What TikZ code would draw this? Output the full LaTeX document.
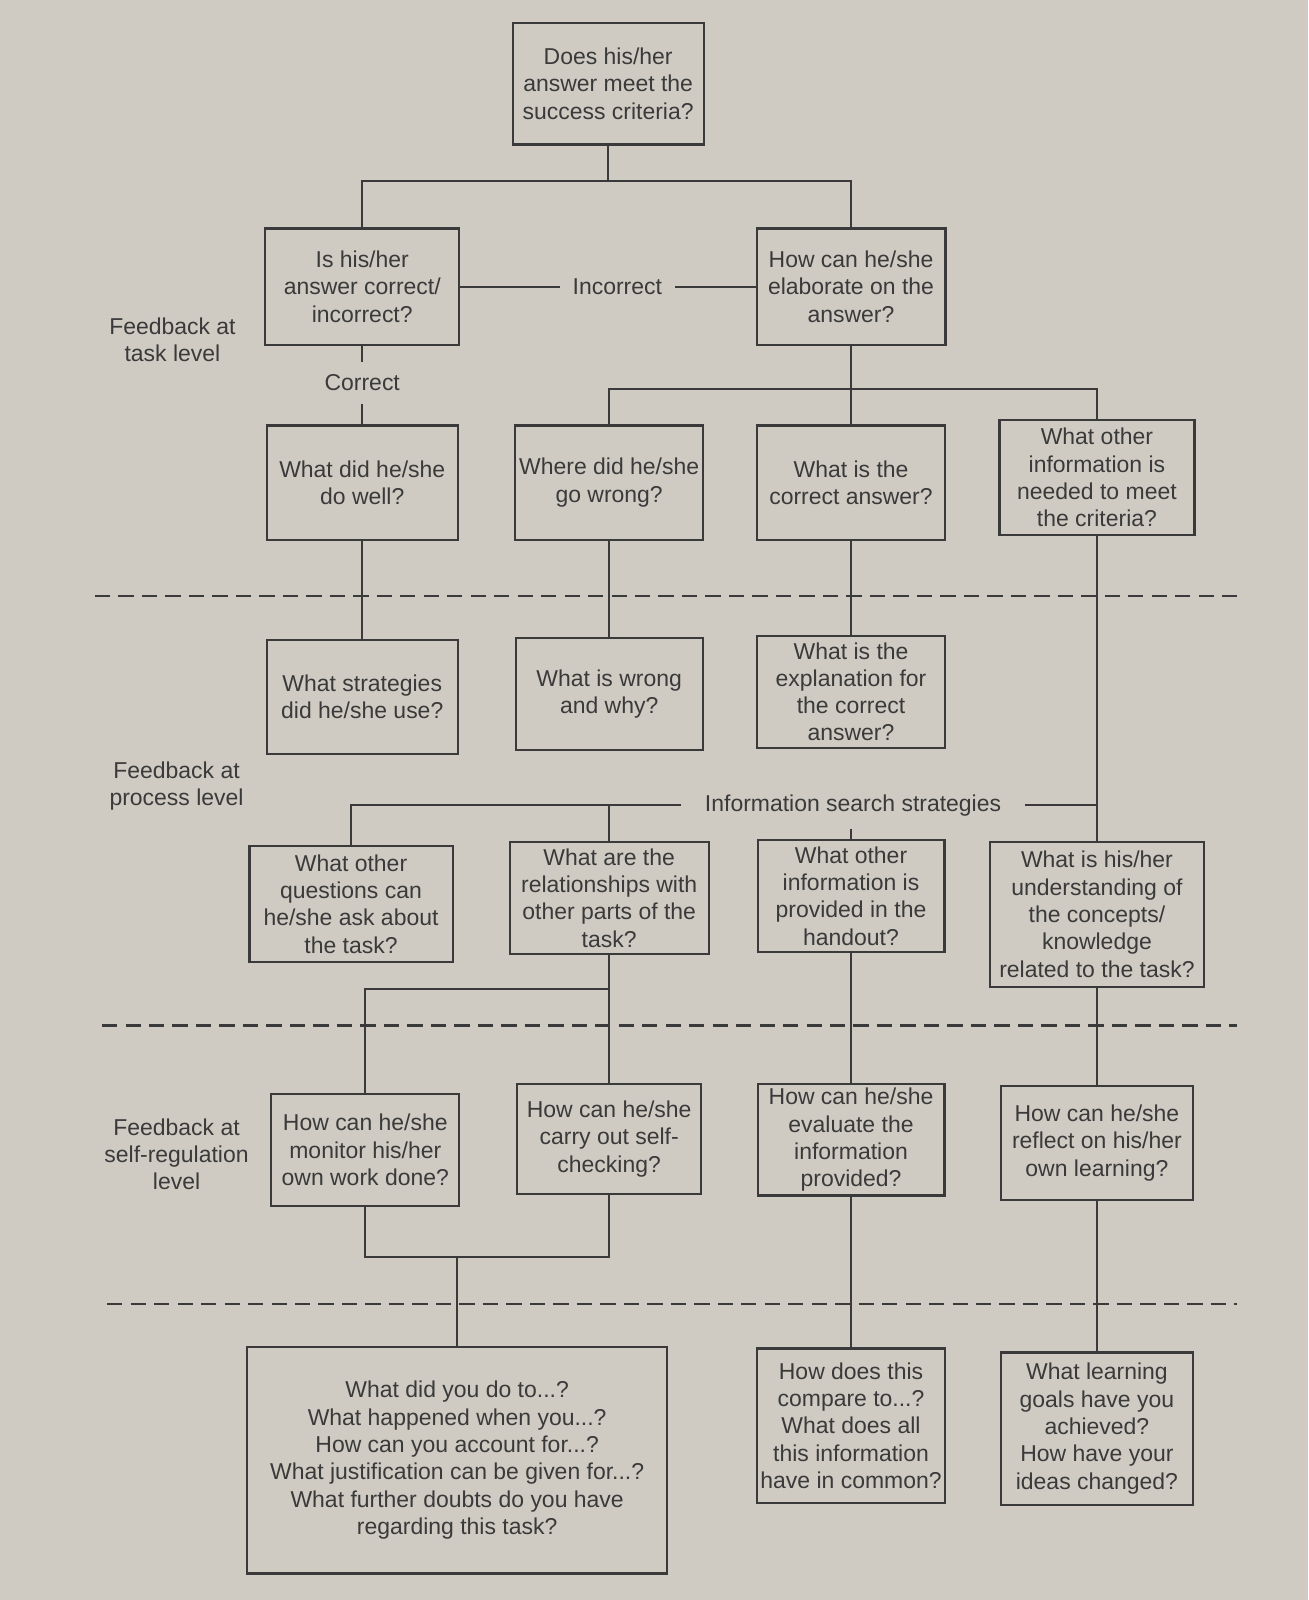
\documentclass[tikz,border=0pt]{standalone}
\usepackage{fontspec}
\setmainfont{Liberation Sans}
\definecolor{paper}{HTML}{CFCBC3}
\definecolor{ink}{HTML}{3A3A3A}
\begin{document}
\begin{tikzpicture}[x=0.01cm, y=-0.01cm, line width=.6pt, color=ink,
 font=\fontsize{6.4}{7.6}\selectfont,
 qbox/.style 2 args={draw, align=center, inner sep=1pt, minimum width=#1cm, minimum height=#2cm},
 lvl/.style={align=center},
 sep/.style={dash pattern=on .15cm off .08cm}]
\fill[paper] (0,0) rectangle (1282,1568);
\useasboundingbox (0,0) rectangle (1282,1568);
\node[qbox={1.87}{1.19}] (top) at (596,82) {Does his/her\\answer meet the\\success criteria?};
\node[qbox={1.90}{1.14}] (A) at (355,281) {Is his/her\\answer correct/\\incorrect?};
\node[qbox={1.85}{1.14}] (B) at (834,281) {How can he/she\\elaborate on the\\answer?};
\node (incor) at (605,281) {Incorrect};
\node (cor) at (355,375) {Correct};
\node[qbox={1.87}{1.12}] (C) at (355,473) {What did he/she\\do well?};
\node[qbox={1.84}{1.12}] (D) at (597,473) {Where did he/she\\go wrong?};
\node[qbox={1.84}{1.12}] (E) at (834,473) {What is the\\correct answer?};
\node[qbox={1.91}{1.13}] (F) at (1075,468) {What other\\information is\\needed to meet\\the criteria?};
\node[qbox={1.87}{1.12}] (G) at (355,683) {What strategies\\did he/she use?};
\node[qbox={1.83}{1.10}] (H) at (597,680) {What is wrong\\and why?};
\node[qbox={1.84}{1.10}] (I) at (834,678) {What is the\\explanation for\\the correct\\answer?};
\node[inner xsep=.22cm] (iss) at (836,789) {Information search strategies};
\node[qbox={1.99}{1.14}] (J) at (344,886) {What other\\questions can\\he/she ask about\\the task?};
\node[qbox={1.95}{1.09}] (K) at (597,880) {What are the\\relationships with\\other parts of the\\task?};
\node[qbox={1.83}{1.10}] (M) at (834,878) {What other\\information is\\provided in the\\handout?};
\node[qbox={2.10}{1.42}] (L) at (1075,896) {What is his/her\\understanding of\\the concepts/\\knowledge\\related to the task?};
\node[qbox={1.84}{1.09}] (N) at (358,1127) {How can he/she\\monitor his/her\\own work done?};
\node[qbox={1.80}{1.08}] (O) at (597,1116) {How can he/she\\carry out self-\\checking?};
\node[qbox={1.83}{1.09}] (P) at (834,1117) {How can he/she\\evaluate the\\information\\provided?};
\node[qbox={1.88}{1.12}] (Q) at (1075,1120) {How can he/she\\reflect on his/her\\own learning?};
\node[qbox={4.11}{2.22}] (R) at (448,1431) {What did you do to...?\\What happened when you...?\\How can you account for...?\\What justification can be given for...?\\What further doubts do you have\\regarding this task?};
\node[qbox={1.83}{1.51}] (S) at (834,1397) {How does this\\compare to...?\\What does all\\this information\\have in common?};
\node[qbox={1.88}{1.49}] (T) at (1075,1400) {What learning\\goals have you\\achieved?\\How have your\\ideas changed?};
\node[lvl] (task) at (169,333) {Feedback at\\task level};
\node[lvl] (proc) at (173,770) {Feedback at\\process level};
\node[lvl] (selfreg) at (173,1131) {Feedback at\\self-regulation\\level};
\draw (top.south) -- ++(0,35) coordinate (tsplit);
\draw (A.north) |- (tsplit) -| (B.north);
\draw (A.east) -- (incor.west) (incor.east) -- (B.west);
\draw (A.south) -- (cor.north) (cor.south) -- (C.north);
\draw (B.south) -- ++(0,42) coordinate (bsplit) -- (E.north);
\draw (D.north) |- (bsplit) -| (F.north);
\draw (C) -- (G) (D) -- (H) (E) -- (I);
\draw (F.south) -- (L.north);
\draw (iss.east) -- (iss.east -| L.north);
\draw (J.north) |- (iss.west);
\draw (iss.west -| K.north) -- (K.north);
\draw (iss.south -| M.north) -- (M.north);
\draw (K.south) -- (O.north);
\draw (K.south) ++(0,34) -| (N.north);
\draw (M.south) -- (P.north) (L.south) -- (Q.north);
\draw (N.south) -- ++(0,49) coordinate (nlow) -| (O.south);
\draw (R.north) -- (R.north |- nlow);
\draw (P.south) -- (S.north) (Q.south) -- (T.north);
\draw[sep] (93,584) -- (1215,584);
\draw[sep] (100,1005) -- (1212,1005);
\draw[sep] (105,1278) -- (1212,1278);
\end{tikzpicture}
\end{document}
